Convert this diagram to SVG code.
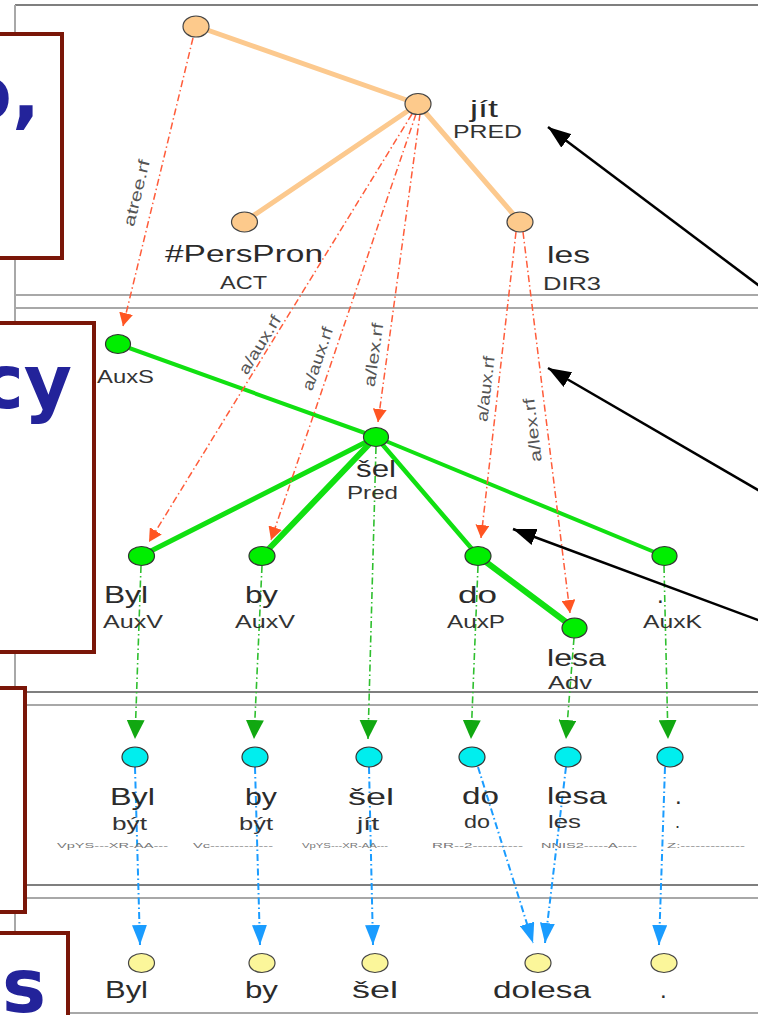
<svg xmlns="http://www.w3.org/2000/svg" width="758" height="1015" viewBox="0 0 758 1015">
<defs>
<style>
text{font-family:"Liberation Sans",Arial,sans-serif;fill:#2b2b2b}
.w{font-size:24px}
.f{font-size:18px;fill:#333}
.tg{font-size:8px;fill:#777}
.rl{font-size:16px;fill:#555}
.big{font-family:"DejaVu Sans",Verdana,sans-serif;font-weight:bold;font-size:74px;fill:#23239a}
.pl{stroke:#a8a8a8;stroke-width:2;fill:none}
.pd{stroke:#555;stroke-width:1.6;fill:none}
.box{fill:#fff;stroke:#7a1608;stroke-width:4}
.tE{stroke:#fcc98e;stroke-width:5;stroke-linecap:round}
.aE{stroke:#11e011;stroke-linecap:round;fill:none}
.red{stroke:#ff5c3a;stroke-width:1.5;stroke-dasharray:7 3 1.5 3;fill:none}
.grn{stroke:#2fbf2f;stroke-width:1.6;stroke-dasharray:7 3 1.5 3;fill:none}
.blu{stroke:#1a9cff;stroke-width:2;stroke-dasharray:7 3 1.5 3;fill:none}
.blk{stroke:#000;stroke-width:2.5;fill:none}
.nt{fill:#fdca8c;stroke:#444;stroke-width:1.2}
.na{fill:#00ee00;stroke:#333;stroke-width:1.2}
.nm{fill:#00eeee;stroke:#333;stroke-width:1.2}
.nw{fill:#fbf69a;stroke:#444;stroke-width:1.2}
</style>
<marker id="mr" markerUnits="userSpaceOnUse" markerWidth="13" markerHeight="14" refX="13" refY="7" orient="auto"><path d="M0,0 L13,7 L0,14 z" fill="#ff5522"/></marker>
<marker id="mg" markerUnits="userSpaceOnUse" markerWidth="19" markerHeight="18" refX="19" refY="9" orient="auto"><path d="M0,0 L19,9 L0,18 z" fill="#11a811"/></marker>
<marker id="mb" markerUnits="userSpaceOnUse" markerWidth="20" markerHeight="15" refX="20" refY="7.5" orient="auto"><path d="M0,0 L20,7.5 L0,15 z" fill="#1a9cff"/></marker>
<marker id="mk" markerUnits="userSpaceOnUse" markerWidth="23" markerHeight="17" refX="23" refY="8.5" orient="auto"><path d="M0,0 L23,8.5 L0,17 z" fill="#000"/></marker>
</defs>
<rect width="758" height="1015" fill="#fff"/>
<g id="panels">
<path class="pd" d="M15,5 H800"/>
<path class="pl" d="M15,5 V1015"/>
<path class="pl" d="M15,295 H800"/>
<path class="pl" d="M15,308 H800"/>
<path class="pd" d="M15,692 H800"/>
<path class="pl" d="M15,705 H800"/>
<path class="pd" d="M15,885 H800"/>
<path class="pl" d="M15,898 H800"/>
<path class="pl" d="M15,1013 H800" stroke-width="1"/>
</g>
<g id="connectors">
<line class="tE" x1="196" y1="26" x2="418" y2="104"/>
<line class="tE" x1="418" y1="104" x2="244" y2="222"/>
<line class="tE" x1="418" y1="104" x2="520" y2="222"/>
<line class="aE" stroke-width="4" x1="376" y1="437" x2="118" y2="344"/>
<line class="aE" stroke-width="5" x1="376" y1="437" x2="141" y2="556"/>
<line class="aE" stroke-width="6" x1="376" y1="437" x2="262" y2="556"/>
<line class="aE" stroke-width="4.5" x1="376" y1="437" x2="478" y2="556"/>
<line class="aE" stroke-width="4" x1="376" y1="437" x2="664" y2="556"/>
<line class="aE" stroke-width="6" x1="478" y1="556" x2="574" y2="628"/>
<path class="red" marker-end="url(#mr)" d="M193,38 L123,326"/>
<path class="red" marker-end="url(#mr)" d="M412,114 L149,542"/>
<path class="red" marker-end="url(#mr)" d="M416,114 L271,540"/>
<path class="red" marker-end="url(#mr)" d="M420,114 L378,422"/>
<path class="red" marker-end="url(#mr)" d="M516,232 L481,538"/>
<path class="red" marker-end="url(#mr)" d="M523,232 L570,613"/>
<text class="rl" text-anchor="middle" transform="translate(137,193) rotate(-76.3)" y="5" textLength="68" lengthAdjust="spacingAndGlyphs">atree.rf</text>
<text class="rl" text-anchor="middle" transform="translate(260,345) rotate(-58.4)" y="5" textLength="66" lengthAdjust="spacingAndGlyphs">a/aux.rf</text>
<text class="rl" text-anchor="middle" transform="translate(318,359) rotate(-71.2)" y="5" textLength="66" lengthAdjust="spacingAndGlyphs">a/aux.rf</text>
<text class="rl" text-anchor="middle" transform="translate(374,355) rotate(-82.2)" y="5" textLength="64" lengthAdjust="spacingAndGlyphs">a/lex.rf</text>
<text class="rl" text-anchor="middle" transform="translate(486,389) rotate(-83.5)" y="5" textLength="66" lengthAdjust="spacingAndGlyphs">a/aux.rf</text>
<text class="rl" text-anchor="middle" transform="translate(533,430) rotate(-97)" y="5" textLength="64" lengthAdjust="spacingAndGlyphs">a/lex.rf</text>
<path class="grn" marker-end="url(#mg)" d="M141,566 L135,739"/>
<path class="grn" marker-end="url(#mg)" d="M262,566 L254,739"/>
<path class="grn" marker-end="url(#mg)" d="M376,447 L368,739"/>
<path class="grn" marker-end="url(#mg)" d="M478,566 L471,739"/>
<path class="grn" marker-end="url(#mg)" d="M574,638 L566,739"/>
<path class="grn" marker-end="url(#mg)" d="M664,566 L668,739"/>
<path class="blu" marker-end="url(#mb)" d="M135,767 L140,945"/>
<path class="blu" marker-end="url(#mb)" d="M255,767 L260,945"/>
<path class="blu" marker-end="url(#mb)" d="M369,767 L373,945"/>
<path class="blu" marker-end="url(#mb)" d="M478,767 L533,943"/>
<path class="blu" marker-end="url(#mb)" d="M566,767 L545,943"/>
<path class="blu" marker-end="url(#mb)" d="M665,767 L659,945"/>
<path class="blk" marker-end="url(#mk)" d="M800,316.5 L548,127"/>
<path class="blk" marker-end="url(#mk)" d="M800,514.4 L548,368"/>
<path class="blk" marker-end="url(#mk)" d="M800,635.6 L513,529"/>
</g>
<g id="t-root"><ellipse class="nt" cx="196" cy="26.5" rx="13" ry="10.5"/></g>
<g id="t-jit"><ellipse class="nt" cx="418" cy="104" rx="13" ry="10.5"/>
<text class="w" x="470" y="117" textLength="28" lengthAdjust="spacingAndGlyphs">jít</text>
<text class="f" x="453" y="138" textLength="69" lengthAdjust="spacingAndGlyphs">PRED</text></g>
<g id="t-perspron"><ellipse class="nt" cx="244.5" cy="222" rx="13" ry="10"/>
<text class="w" x="165" y="262" textLength="158" lengthAdjust="spacingAndGlyphs">#PersPron</text>
<text class="f" x="220" y="289" textLength="47" lengthAdjust="spacingAndGlyphs">ACT</text></g>
<g id="t-les"><ellipse class="nt" cx="520" cy="222" rx="13" ry="10"/>
<text class="w" x="547" y="263" textLength="43" lengthAdjust="spacingAndGlyphs">les</text>
<text class="f" x="543" y="290" textLength="58" lengthAdjust="spacingAndGlyphs">DIR3</text></g>
<g id="a-auxs"><ellipse class="na" cx="118" cy="344" rx="12.5" ry="9.5"/>
<text class="f" x="97" y="383" textLength="57" lengthAdjust="spacingAndGlyphs">AuxS</text></g>
<g id="a-sel"><ellipse class="na" cx="376" cy="437" rx="12.5" ry="9.5"/>
<text class="w" x="356" y="477" textLength="40" lengthAdjust="spacingAndGlyphs">šel</text>
<text class="f" x="347" y="499" textLength="51" lengthAdjust="spacingAndGlyphs">Pred</text></g>
<g id="a-byl"><ellipse class="na" cx="141.5" cy="556" rx="13" ry="9.5"/>
<text class="w" x="104" y="603" textLength="44" lengthAdjust="spacingAndGlyphs">Byl</text>
<text class="f" x="103" y="628" textLength="60" lengthAdjust="spacingAndGlyphs">AuxV</text></g>
<g id="a-by"><ellipse class="na" cx="262" cy="556" rx="13" ry="9.5"/>
<text class="w" x="245" y="603" textLength="33" lengthAdjust="spacingAndGlyphs">by</text>
<text class="f" x="235" y="628" textLength="60" lengthAdjust="spacingAndGlyphs">AuxV</text></g>
<g id="a-do"><ellipse class="na" cx="478" cy="556" rx="13" ry="9.5"/>
<text class="w" x="458" y="603" textLength="39" lengthAdjust="spacingAndGlyphs">do</text>
<text class="f" x="447" y="628" textLength="58" lengthAdjust="spacingAndGlyphs">AuxP</text></g>
<g id="a-lesa"><ellipse class="na" cx="574.5" cy="628" rx="12.5" ry="10"/>
<text class="w" x="547" y="666" textLength="59" lengthAdjust="spacingAndGlyphs">lesa</text>
<text class="f" x="548" y="689" textLength="44" lengthAdjust="spacingAndGlyphs">Adv</text></g>
<g id="a-dot"><ellipse class="na" cx="664.5" cy="556" rx="12.5" ry="9.5"/>
<text class="w" x="657" y="603">.</text>
<text class="f" x="643" y="628" textLength="59" lengthAdjust="spacingAndGlyphs">AuxK</text></g>
<g id="m-byl"><ellipse class="nm" cx="135" cy="757" rx="13" ry="10"/>
<text class="w" x="110" y="805" textLength="45" lengthAdjust="spacingAndGlyphs">Byl</text>
<text class="f" x="112" y="830" textLength="35" lengthAdjust="spacingAndGlyphs">být</text>
<text class="tg" x="57" y="848" textLength="111" lengthAdjust="spacingAndGlyphs">VpYS---XR-AA---</text></g>
<g id="m-by"><ellipse class="nm" cx="255" cy="757" rx="13" ry="10"/>
<text class="w" x="245" y="805" textLength="32" lengthAdjust="spacingAndGlyphs">by</text>
<text class="f" x="239" y="830" textLength="34" lengthAdjust="spacingAndGlyphs">být</text>
<text class="tg" x="193" y="848" textLength="80" lengthAdjust="spacingAndGlyphs">Vc-------------</text></g>
<g id="m-sel"><ellipse class="nm" cx="369" cy="757" rx="13" ry="10"/>
<text class="w" x="348" y="805" textLength="46" lengthAdjust="spacingAndGlyphs">šel</text>
<text class="f" x="357" y="830" textLength="22" lengthAdjust="spacingAndGlyphs">jít</text>
<text class="tg" x="302" y="848" textLength="86" lengthAdjust="spacingAndGlyphs">VpYS---XR-AA---</text></g>
<g id="m-do"><ellipse class="nm" cx="472" cy="757" rx="13" ry="10"/>
<text class="w" x="462" y="804" textLength="37" lengthAdjust="spacingAndGlyphs">do</text>
<text class="f" x="464" y="828" textLength="26" lengthAdjust="spacingAndGlyphs">do</text>
<text class="tg" x="432" y="848" textLength="91" lengthAdjust="spacingAndGlyphs">RR--2----------</text></g>
<g id="m-lesa"><ellipse class="nm" cx="568" cy="757" rx="13" ry="10"/>
<text class="w" x="547" y="804" textLength="60" lengthAdjust="spacingAndGlyphs">lesa</text>
<text class="f" x="548" y="828" textLength="33" lengthAdjust="spacingAndGlyphs">les</text>
<text class="tg" x="541" y="848" textLength="96" lengthAdjust="spacingAndGlyphs">NNIS2-----A----</text></g>
<g id="m-dot"><ellipse class="nm" cx="670" cy="757" rx="13" ry="10"/>
<text class="w" x="675" y="804">.</text>
<text class="f" x="675" y="828">.</text>
<text class="tg" x="667" y="848" textLength="78" lengthAdjust="spacingAndGlyphs">Z:-------------</text></g>
<g id="w-byl"><ellipse class="nw" cx="141.5" cy="963" rx="13" ry="9.5"/>
<text class="w" x="105" y="998" textLength="43" lengthAdjust="spacingAndGlyphs">Byl</text></g>
<g id="w-by"><ellipse class="nw" cx="262" cy="963" rx="13" ry="9.5"/>
<text class="w" x="245" y="998" textLength="33" lengthAdjust="spacingAndGlyphs">by</text></g>
<g id="w-sel"><ellipse class="nw" cx="375" cy="963" rx="13" ry="9.5"/>
<text class="w" x="352" y="998" textLength="46" lengthAdjust="spacingAndGlyphs">šel</text></g>
<g id="w-dolesa"><ellipse class="nw" cx="538" cy="963" rx="13" ry="9.5"/>
<text class="w" x="493" y="998" textLength="98" lengthAdjust="spacingAndGlyphs">dolesa</text></g>
<g id="w-dot"><ellipse class="nw" cx="664" cy="963" rx="13" ry="9.5"/>
<text class="w" x="660" y="998">.</text></g>
<g id="box1"><rect class="box" x="-10" y="34" width="72" height="224"/>
<text class="big" x="40" y="119" text-anchor="end">o,</text></g>
<g id="box2"><rect class="box" x="-10" y="323" width="104" height="329"/>
<text class="big" x="72" y="408" text-anchor="end">cy</text></g>
<g id="box3"><rect class="box" x="-10" y="688" width="35" height="224"/></g>
<g id="box4"><rect class="box" x="-10" y="933" width="78" height="100"/>
<text class="big" x="2" y="1012">s</text></g>
</svg>
